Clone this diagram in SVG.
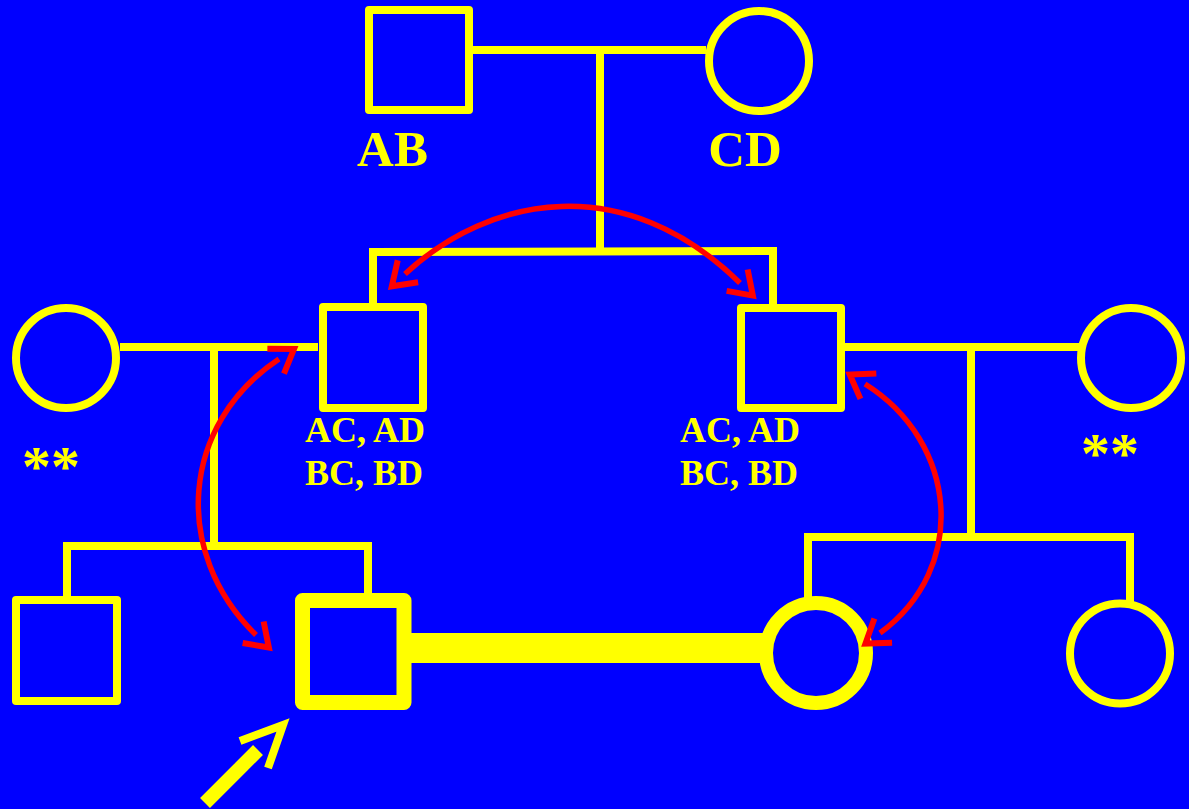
<svg xmlns="http://www.w3.org/2000/svg" width="1189" height="809" viewBox="0 0 1189 809">
<style>
.n{fill:none;stroke:#FFFF00;stroke-width:8;stroke-linejoin:round}
.b{fill:none;stroke:#FFFF00;stroke-width:15;stroke-linejoin:round}
.l{fill:none;stroke:#FFFF00;stroke-width:8}
.r{fill:none;stroke:#FF0000;stroke-width:5.5}
.t{font-family:"Liberation Serif","Times New Roman",serif;font-weight:bold;fill:#FFFF00}
</style>
<defs>
<marker id="ah" markerUnits="userSpaceOnUse" markerWidth="60" markerHeight="60" viewBox="-30 -30 60 60" refX="0" refY="0" orient="auto-start-reverse" overflow="visible">
<path d="M-4,-15 L18,0 L-4,15" fill="none" stroke="#FF0000" stroke-width="6"/>
</marker>
</defs>
<rect x="0" y="0" width="1189" height="809" fill="#0000FF"/>
<g id="connectors">
<line class="l" x1="473" y1="50" x2="706" y2="50"/>
<line class="l" x1="600" y1="50" x2="600" y2="252"/>
<polyline class="l" points="373,307 373,252 773,251 773,308"/>
<line class="l" x1="120" y1="347" x2="318" y2="347"/>
<line class="l" x1="214" y1="347" x2="214" y2="546"/>
<polyline class="l" points="67,598 67,546 368,546 368,594"/>
<line class="l" x1="845" y1="347" x2="1081" y2="347"/>
<line class="l" x1="971" y1="347" x2="971" y2="537"/>
<polyline class="l" points="808,598 808,537 1130,537 1130,603"/>
<line x1="410" y1="648" x2="764" y2="648" stroke="#FFFF00" stroke-width="30"/>
</g>
<g id="father"><rect class="n" x="369" y="10" width="100" height="100"/><text class="t" x="392.5" y="166" font-size="51" text-anchor="middle">AB</text></g>
<g id="mother"><circle class="n" cx="759" cy="61" r="50"/><text class="t" x="745" y="166" font-size="51" text-anchor="middle">CD</text></g>
<g id="wife-left"><circle class="n" cx="66" cy="358" r="50"/><text class="t" x="22" y="486" font-size="58">**</text></g>
<g id="son-left"><rect class="n" x="323" y="307" width="100" height="101"/><text class="t" x="305" y="442" font-size="36">AC, AD</text><text class="t" x="305" y="485" font-size="36">BC, BD</text></g>
<g id="son-right"><rect class="n" x="741" y="308" width="100" height="100"/><text class="t" x="680" y="442" font-size="36">AC, AD</text><text class="t" x="680" y="485" font-size="36">BC, BD</text></g>
<g id="wife-right"><circle class="n" cx="1131" cy="358" r="50"/><text class="t" x="1081" y="473" font-size="58">**</text></g>
<g id="sib-left"><rect class="n" x="16" y="600" width="101" height="101"/></g>
<g id="proband"><rect class="b" x="302.5" y="600.5" width="101.5" height="102"/></g>
<g id="spouse"><circle cx="816" cy="653" r="50" fill="none" stroke="#FFFF00" stroke-width="14"/></g>
<g id="sib-right"><circle class="n" cx="1120" cy="653.5" r="50"/></g>
<g id="arrows">
<path class="r" d="M405,274 C490,195 625,170 740,283" marker-start="url(#ah)" marker-end="url(#ah)"/>
<path class="r" d="M279,359 C181,424 171,552 256,635" marker-start="url(#ah)" marker-end="url(#ah)"/>
<path class="r" d="M865,384 C958,442 969,568 880,633" marker-start="url(#ah)" marker-end="url(#ah)"/>
<line x1="205" y1="803" x2="258" y2="750" stroke="#FFFF00" stroke-width="14"/>
<polyline points="240,741 283,725 268,768" fill="none" stroke="#FFFF00" stroke-width="8"/>
</g>
</svg>
